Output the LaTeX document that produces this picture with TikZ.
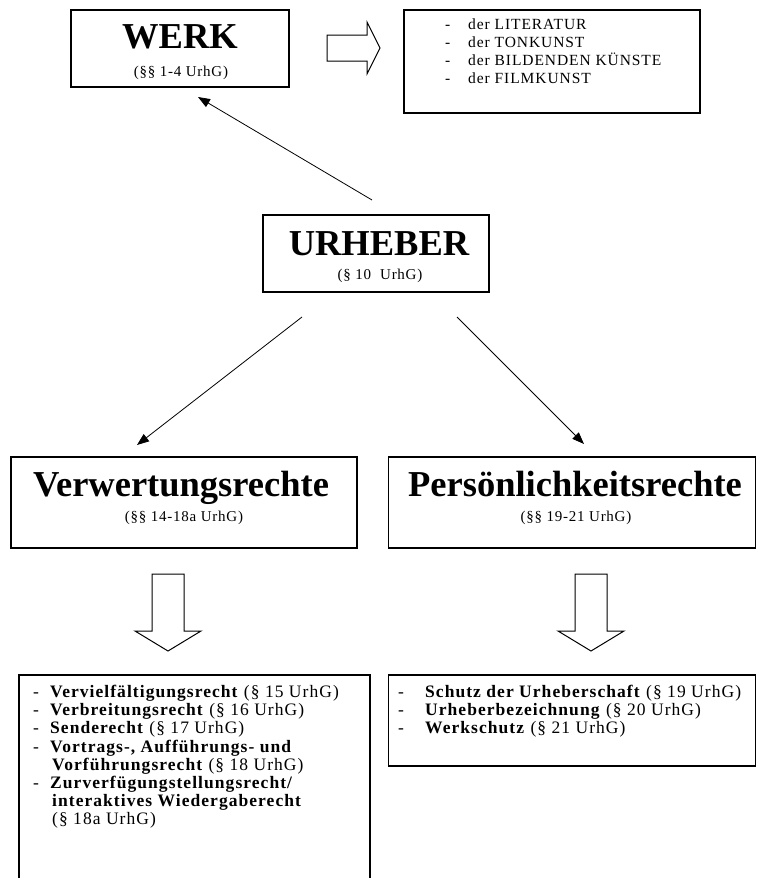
\documentclass[tikz,border=0pt]{standalone}
\usepackage{fontspec}
\setmainfont{Liberation Serif}
\newfontfamily\lsA[LetterSpace=6]{Liberation Serif}
\newfontfamily\lsB[LetterSpace=6]{Liberation Serif}
\newfontfamily\lsC[LetterSpace=5]{Liberation Serif}
\usetikzlibrary{arrows.meta}
\tikzset{
  box/.style={draw, line width=1.1pt, inner sep=0pt},
  ttl/.style={anchor=base, inner sep=0pt, font=\bfseries\fontsize{36.5}{40}\selectfont},
  sub/.style={anchor=base, inner sep=0pt, font=\lsC\fontsize{15}{17}\selectfont},
  topitem/.style={anchor=base west, inner sep=0pt, font=\lsA\fontsize{15.5}{17}\selectfont},
  item/.style={anchor=base west, inner sep=0pt, font=\lsB\fontsize{17.5}{18}\selectfont},
  conn/.style={line width=0.8pt, -{Triangle[length=12pt,width=9pt]}},
  hollow/.style={draw, line width=1pt, fill=white, line join=miter}
}
\begin{document}
\begin{tikzpicture}[x=1pt,y=-1pt]
\useasboundingbox (0,0) rectangle (757,878);
% boxes
\node[box, minimum width=218pt, minimum height=77pt] (werk) at (180,48.5) {};
\node[box, minimum width=296pt, minimum height=103pt] (liste) at (552,61.5) {};
\node[box, minimum width=226pt, minimum height=77pt] (urheber) at (376,253.5) {};
\node[box, minimum width=346pt, minimum height=91pt] (verw) at (184,502.5) {};
\node[box, minimum width=367pt, minimum height=91pt] (pers) at (572,502.5) {};
\node[box, minimum width=367pt, minimum height=91pt] (rpers) at (572,720.5) {};
\draw[line width=1.1pt] (19,890) -- (19,675) -- (370,675) -- (370,890);
% titles
\node[ttl] (twerk) at (180,48) {WERK};
\node[sub] (swerk) at (181,76) {(§§ 1-4 UrhG)};
\node[ttl] (turh) at (379,255) {URHEBER};
\node[sub] (surh) at (380,279) {(§ 10\ \ UrhG)};
\node[ttl] (tverw) at (181,496) {Verwertungsrechte};
\node[sub] (sverw) at (184,521) {(§§ 14-18a UrhG)};
\node[ttl] (tpers) at (575,496) {Persönlichkeitsrechte};
\node[sub] (spers) at (576,521) {(§§ 19-21 UrhG)};
% top list
\foreach \y/\t [count=\i] in {29/der LITERATUR, 47/der TONKUNST, 65/der BILDENDEN KÜNSTE, 83/der FILMKUNST}{
  \node[topitem] (ld\i) at (445,\y) {-};
  \node[topitem] (lt\i) at (468,\y) {\t};
}
% bottom left list
\node[item] (d1) at (33,697) {-};
\node[item] (i1) at (50,697) {\textbf{Vervielfältigungsrecht} (§ 15 UrhG)};
\node[item] (d2) at (33,715) {-};
\node[item] (i2) at (50,715) {\textbf{Verbreitungsrecht} (§ 16 UrhG)};
\node[item] (d3) at (33,733) {-};
\node[item] (i3) at (50,733) {\textbf{Senderecht} (§ 17 UrhG)};
\node[item] (d4) at (33,752) {-};
\node[item] (i4) at (50,752) {\textbf{Vortrags-, Aufführungs- und}};
\node[item] (i4b) at (52,770) {\textbf{Vorführungsrecht} (§ 18 UrhG)};
\node[item] (d5) at (33,788) {-};
\node[item] (i5) at (50,788) {\textbf{Zurverfügungstellungsrecht/}};
\node[item] (i5b) at (52,806) {\textbf{interaktives Wiedergaberecht}};
\node[item] (i5c) at (52,824) {(§ 18a UrhG)};
% bottom right list
\node[item] (e1) at (398,697) {-};
\node[item] (j1) at (425,697) {\textbf{Schutz der Urheberschaft} (§ 19 UrhG)};
\node[item] (e2) at (398,715) {-};
\node[item] (j2) at (425,715) {\textbf{Urheberbezeichnung} (§ 20 UrhG)};
\node[item] (e3) at (398,733) {-};
\node[item] (j3) at (425,733) {\textbf{Werkschutz} (§ 21 UrhG)};
% hollow arrows
\draw[hollow] (327,35) -- (367,35) -- (367,22) -- (380,48) -- (367,74) -- (367,61) -- (327,61) -- cycle;
\draw[hollow] (152,574) -- (184,574) -- (184,631) -- (201,631) -- (168,651) -- (135,631) -- (152,631) -- cycle;
\draw[hollow] (575,574) -- (607,574) -- (607,631) -- (624,631) -- (591,651) -- (558,631) -- (575,631) -- cycle;
% connectors
\coordinate (u1) at (372,200);
\coordinate (w1) at (198,97);
\coordinate (u2) at (302,317);
\coordinate (v1) at (137,445);
\coordinate (u3) at (457,317);
\coordinate (p1) at (584,444);
\draw[conn] (u1) -- (w1);
\draw[conn] (u2) -- (v1);
\draw[conn] (u3) -- (p1);
\end{tikzpicture}
\end{document}
